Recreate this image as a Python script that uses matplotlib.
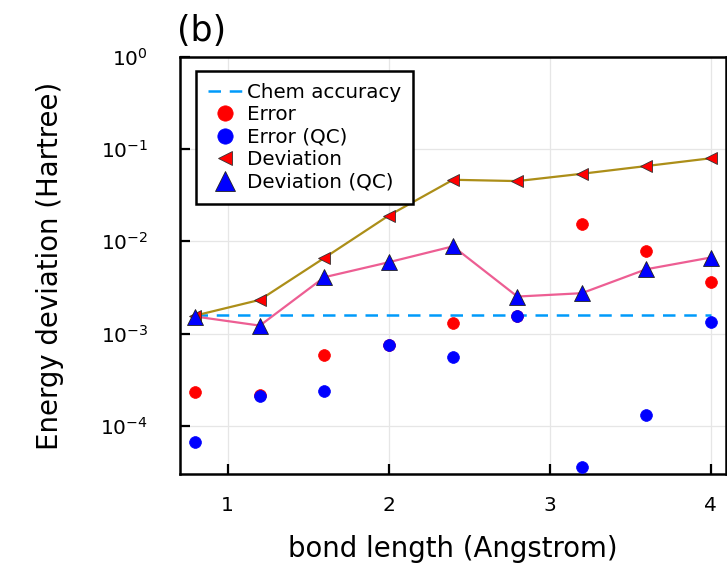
import matplotlib
matplotlib.use("Agg")
import matplotlib.pyplot as plt
import numpy as np

bond_length = [0.8, 1.2, 1.6, 2.0, 2.4, 2.8, 3.2, 3.6, 4.0]
error = [2.30e-4, 2.15e-4, 5.8e-4, 7.5e-4, 1.31e-3, 1.55e-3, 1.53e-2, 7.9e-3, 3.6e-3]
error_qc = [6.6e-5, 2.12e-4, 2.37e-4, 7.6e-4, 5.6e-4, 1.55e-3, 3.57e-5, 1.32e-4, 1.35e-3]
deviation = [1.57e-3, 2.32e-3, 6.6e-3, 1.9e-2, 4.65e-2, 4.5e-2, 5.4e-2, 6.55e-2, 7.95e-2]
deviation_qc = [1.53e-3, 1.22e-3, 4.08e-3, 5.93e-3, 8.83e-3, 2.52e-3, 2.74e-3, 4.98e-3, 6.67e-3]
chem_accuracy = 1.6e-3

plt.rcParams['font.family'] = ['DejaVu Sans']

fig = plt.figure(figsize=(7.27, 5.63), dpi=100)
ax = fig.add_axes([0.2476, 0.158, 0.7510, 0.741])

ax.plot([bond_length[0], bond_length[-1]], [chem_accuracy, chem_accuracy],
        ls=(0, (5, 3.5)), color='#009AFA', lw=1.8, label='Chem accuracy', zorder=2)
ax.plot(bond_length, error, 'o', color='red', ms=8.5, mec='red', mew=0.5,
        label='Error', zorder=3)
ax.plot(bond_length, error_qc, 'o', color='blue', ms=8.5, mec='blue', mew=0.5,
        label='Error (QC)', zorder=3)
ax.plot(bond_length, deviation, '-', color='#AC8E18', lw=1.6, zorder=3)
ax.plot(bond_length, deviation, '<', color='red', ms=8, mec='#333333', mew=0.6,
        label='Deviation', zorder=4)
ax.plot(bond_length, deviation_qc, '-', color='#ED5E93', lw=1.6, zorder=3)
ax.plot(bond_length, deviation_qc, '^', color='blue', ms=11.5, mec='#222222', mew=0.6,
        label='Deviation (QC)', zorder=4)

ax.set_yscale('log')
ax.set_xlim(0.704, 4.096)
ax.set_ylim(3.0e-5, 0.97)
ax.set_xticks([1, 2, 3, 4])
ax.set_xticklabels(['1', '2', '3', '4'])
ax.set_yticks([1e-4, 1e-3, 1e-2, 1e-1, 1e0])
ax.yaxis.set_minor_locator(matplotlib.ticker.NullLocator())
ax.tick_params(axis='both', which='major', direction='in', length=7, width=1.6,
               labelsize=14.5)
ax.tick_params(axis='x', pad=16)
ax.tick_params(axis='y', pad=23)
ax.grid(True, color='#e6e6e6', lw=0.9)
for sp in ax.spines.values():
    sp.set_linewidth(1.8)

ax.set_xlabel('bond length (Angstrom)', fontsize=19.8, labelpad=14)
ax.set_ylabel('Energy deviation (Hartree)', fontsize=19.8, labelpad=26)

leg = ax.legend(loc='upper left', bbox_to_anchor=(0.03, 0.967), fontsize=14.3,
                frameon=True, fancybox=False, edgecolor='black', framealpha=1,
                handlelength=1.7, handletextpad=0.25, labelspacing=0.18,
                borderpad=0.6, borderaxespad=0, markerscale=1.3)
leg.get_frame().set_linewidth(1.8)

fig.text(0.243, 0.945, '(b)', fontsize=25, ha='left', va='center')

fig.savefig('out.png', dpi=100)
